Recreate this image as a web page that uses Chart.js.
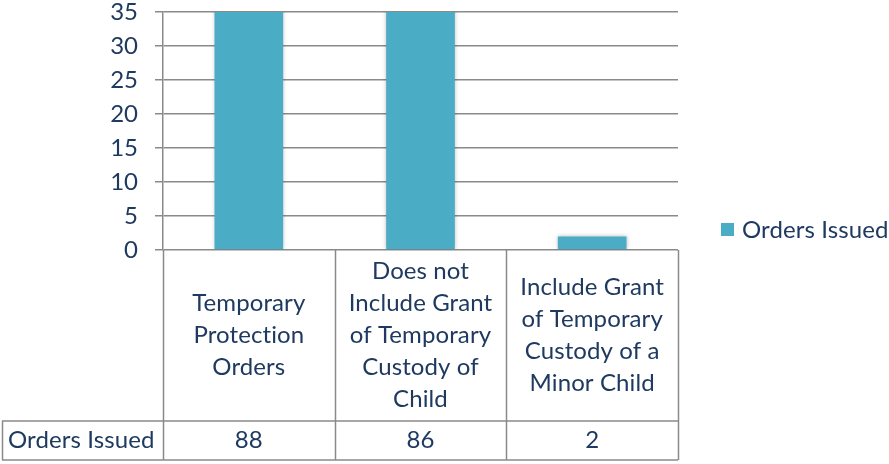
<!DOCTYPE html>
<html>
<head>
<meta charset="utf-8">
<title>Orders Issued</title>
<script src="https://cdn.jsdelivr.net/npm/chart.js@4.4.1/dist/chart.umd.min.js"></script>
<style>
  html, body { margin: 0; padding: 0; background: #ffffff; }
  #wrap { width: 889px; height: 464px; position: relative; }
</style>
</head>
<body>
<div id="wrap"><canvas id="ordersChart"></canvas></div>
<script>
// categories, one entry per column, already split into display lines
const categories = [
    ['Temporary', 'Protection', 'Orders'],
    ['Does not', 'Include Grant', 'of Temporary', 'Custody of', 'Child'],
    ['Include Grant', 'of Temporary', 'Custody of a', 'Minor Child']
];
const seriesName = 'Orders Issued';
const ordersIssued = [88, 86, 2];
const yTicks = [0, 5, 10, 15, 20, 25, 30, 35];

const TEXT = '#1f3a60';
const GRID = '#8a8a8a';
const BAR = '#4bacc6';
const FONT = 'Lato, "Open Sans", sans-serif';
const FONT_SIZE = 24;
const LINE_H = 32;

// table under the plot + legend on the right
const tablePlugin = {
    id: 'dataTable',
    afterDraw(chart) {
        const { ctx, chartArea, scales } = chart;
        const x = scales.x;
        const n = categories.length;
        const colW = (chartArea.right - chartArea.left) / n;
        const top = chartArea.bottom;
        const midY = 421;
        const bottom = 460;
        const tableLeft = 2;

        ctx.save();
        ctx.strokeStyle = GRID;
        ctx.lineWidth = 1.5;
        ctx.beginPath();
        // vertical lines of the category row
        for (let i = 0; i <= n; i++) {
            const px = Math.round(chartArea.left + i * colW) + 0.5;
            ctx.moveTo(px, top);
            ctx.lineTo(px, bottom);
        }
        ctx.moveTo(tableLeft, midY);
        ctx.lineTo(chartArea.right, midY);
        ctx.moveTo(tableLeft, bottom);
        ctx.lineTo(chartArea.right, bottom);
        ctx.moveTo(tableLeft + 0.5, midY);
        ctx.lineTo(tableLeft + 0.5, bottom);
        ctx.stroke();

        ctx.fillStyle = TEXT;
        ctx.font = FONT_SIZE + 'px ' + FONT;
        // tiny spacing stops Lato's "ti" ligature
        ctx.letterSpacing = '0.1px';
        ctx.textAlign = 'center';
        ctx.textBaseline = 'middle';
        const rowMid = (top + midY) / 2;
        categories.forEach((lines, i) => {
            const cx = x.getPixelForValue(i);
            const y0 = rowMid - (lines.length - 1) * LINE_H / 2;
            lines.forEach((ln, j) => ctx.fillText(ln, cx, y0 + j * LINE_H));
            ctx.fillText(String(ordersIssued[i]), cx, (midY + bottom) / 2);
        });

        ctx.textAlign = 'left';
        ctx.fillText(seriesName, tableLeft + 6, (midY + bottom) / 2);

        // legend
        ctx.fillStyle = BAR;
        ctx.fillRect(721, 223, 13, 13);
        ctx.fillStyle = TEXT;
        ctx.fillText(seriesName, 742, 230);
        ctx.restore();
    }
};

// soft shadow around bars
const shadowPlugin = {
    id: 'barShadow',
    beforeDatasetsDraw(chart) {
        const ctx = chart.ctx;
        ctx.save();
        ctx.shadowColor = 'rgba(0,0,0,0.25)';
        ctx.shadowBlur = 4;
    },
    afterDatasetsDraw(chart) {
        chart.ctx.restore();
    }
};

new Chart(document.getElementById('ordersChart'), {
    type: 'bar',
    data: {
        labels: categories,
        datasets: [{
            label: seriesName,
            data: ordersIssued,
            backgroundColor: BAR,
            borderWidth: 0,
            categoryPercentage: 1,
            barPercentage: 0.4
        }]
    },
    options: {
        responsive: true,
        maintainAspectRatio: false,
        animation: false,
        layout: { padding: { top: 12, right: 211, left: 0, bottom: 0 } },
        plugins: {
            legend: { display: false },
            tooltip: { enabled: false }
        },
        scales: {
            x: {
                ticks: { display: false },
                grid: { display: false },
                border: { display: false },
                afterFit: (scale) => { scale.height = 214; }
            },
            y: {
                min: yTicks[0],
                max: yTicks[yTicks.length - 1],
                afterBuildTicks: (scale) => { scale.ticks = yTicks.map(v => ({ value: v })); },
                ticks: {
                    color: TEXT,
                    font: { family: FONT, size: FONT_SIZE },
                    padding: 17
                },
                grid: { color: GRID, lineWidth: 1.5, tickLength: 8 },
                border: { color: GRID, width: 1.5 },
                afterFit: (scale) => {
                    scale.width = 163;
                    scale.paddingTop = 0;
                    scale.paddingBottom = 0;
                }
            }
        }
    },
    plugins: [tablePlugin, shadowPlugin]
});
</script>
</body>
</html>
